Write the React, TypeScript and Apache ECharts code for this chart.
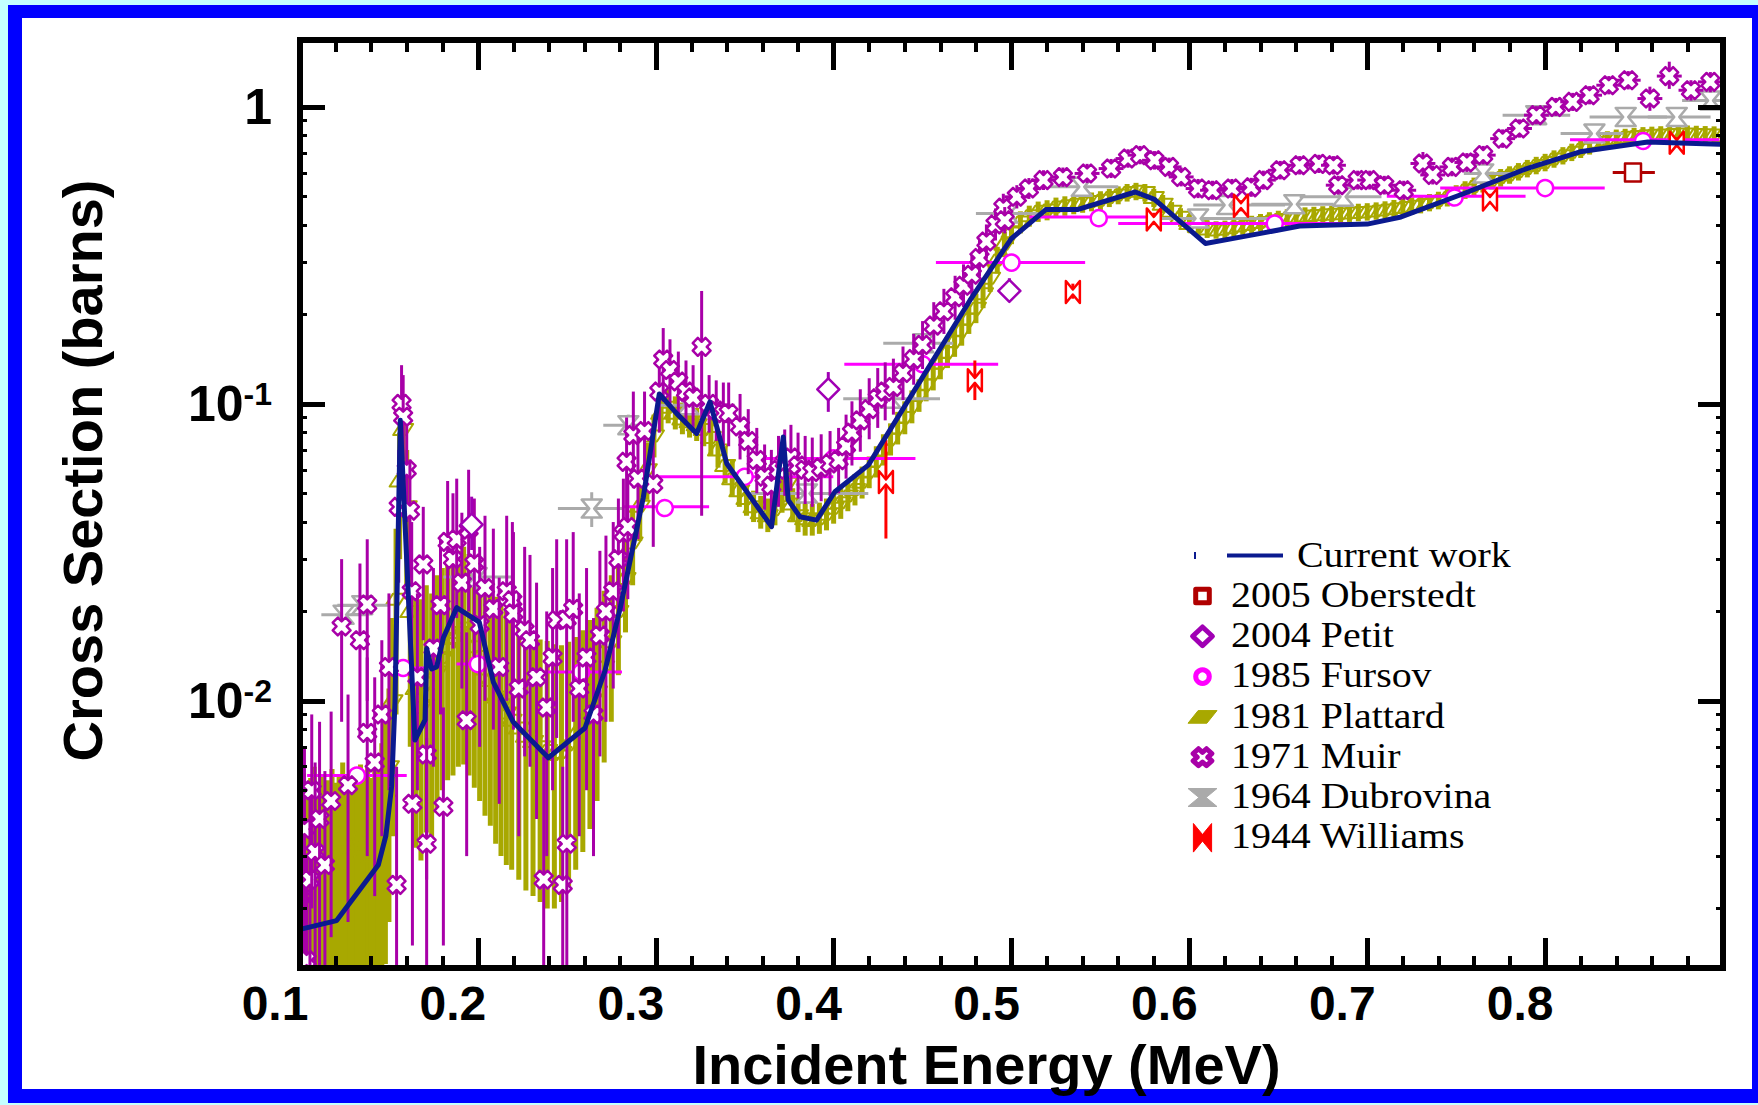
import React, { useEffect, useRef } from "react";
import * as echarts from "echarts";

// ---------------- axis ranges & tick labels ----------------
const X_MIN = 0.1;
const X_MAX = 0.9;
const X_STEP = 0.1;
const X_LABELS = ["0.1", "0.2", "0.3", "0.4", "0.5", "0.6", "0.7", "0.8"];
const Y_MIN = 0.00126;
const Y_MAX = 1.68;

// ---------------- data ----------------
// Current work: [E (MeV), sigma (b)]
const CURRENT_WORK: number[][] = [
  [0.1, 0.0017], [0.1206, 0.00182], [0.144, 0.0028], [0.1483, 0.00352], [0.1515, 0.00514],
  [0.1534, 0.0099], [0.1564, 0.088], [0.1646, 0.00738], [0.1703, 0.00863], [0.1712, 0.015],
  [0.174, 0.0128], [0.1768, 0.013], [0.1806, 0.0163], [0.1881, 0.0206], [0.2008, 0.0184],
  [0.2087, 0.01156], [0.2199, 0.00848], [0.2396, 0.00643], [0.2602, 0.0081], [0.2714, 0.0126],
  [0.28, 0.0205], [0.293, 0.0484], [0.302, 0.108], [0.3117, 0.0929], [0.323, 0.0795],
  [0.3305, 0.1016], [0.3399, 0.063], [0.3651, 0.0386], [0.3717, 0.0774], [0.3745, 0.0474],
  [0.381, 0.0417], [0.3904, 0.0406], [0.4007, 0.0506], [0.4195, 0.0622], [0.4766, 0.223],
  [0.4997, 0.359], [0.5193, 0.451], [0.537, 0.451], [0.5696, 0.517], [0.5804, 0.488],
  [0.609, 0.347], [0.6348, 0.37], [0.662, 0.397], [0.7, 0.403], [0.719, 0.426],
  [0.7544, 0.511], [0.7897, 0.62], [0.8196, 0.706], [0.8577, 0.762], [0.8984, 0.749],
];

// 2005 Oberstedt: [E, sigma, Elow, Ehigh]
const OBERSTEDT: number[][] = [[0.8494, 0.601, 0.838, 0.8617]];

// 2004 Petit: [E, sigma, sigLow, sigHigh]
const PETIT: number[][] = [
  [0.1965, 0.0392, 0.0322, 0.0487],
  [0.397, 0.1118, 0.094, 0.128],
  [0.4988, 0.24, 0.223, 0.265],
];

// 1985 Fursov: [E, sigma, Elow, Ehigh]
const FURSOV: number[][] = [
  [0.132, 0.0056, 0.104, 0.16], [0.158, 0.0129, 0.145, 0.171], [0.2, 0.0133, 0.188, 0.211],
  [0.258, 0.0125, 0.235, 0.281], [0.305, 0.045, 0.282, 0.33], [0.35, 0.0568, 0.3005, 0.3998],
  [0.4, 0.0655, 0.355, 0.446], [0.45, 0.136, 0.406, 0.4925], [0.5, 0.299, 0.4575, 0.5414],
  [0.549, 0.426, 0.51, 0.578], [0.648, 0.405, 0.56, 0.7], [0.749, 0.5, 0.711, 0.789],
  [0.8, 0.533, 0.741, 0.8335], [0.855, 0.775, 0.814, 0.898],
];

// 1981 Plattard: [E, sigma, sigLow, sigHigh]
const PLATTARD: number[][] = [
  [0.1, 0.0029, 0.0007, 0.0052], [0.102, 0.0033, 0.0009, 0.0057], [0.104, 0.0026, 0.0006, 0.0049],
  [0.106, 0.0031, 0.0008, 0.0055], [0.108, 0.0035, 0.001, 0.006], [0.11, 0.0028, 0.0007, 0.0051],
  [0.112, 0.0032, 0.0008, 0.0056], [0.114, 0.0027, 0.0007, 0.005], [0.116, 0.003, 0.0008, 0.0054],
  [0.118, 0.0034, 0.0009, 0.0059], [0.12, 0.0029, 0.0008, 0.0053], [0.122, 0.0031, 0.0008, 0.0056],
  [0.124, 0.0036, 0.001, 0.0062], [0.126, 0.003, 0.0008, 0.0054], [0.128, 0.0033, 0.0009, 0.0058],
  [0.13, 0.0028, 0.0007, 0.0052], [0.132, 0.0032, 0.0009, 0.0057], [0.134, 0.0035, 0.001, 0.0061],
  [0.136, 0.0031, 0.0008, 0.0056], [0.138, 0.0034, 0.0009, 0.006], [0.14, 0.003, 0.0008, 0.0055],
  [0.142, 0.0033, 0.0009, 0.006], [0.144, 0.0037, 0.001, 0.0066], [0.146, 0.004, 0.0011, 0.0072],
  [0.148, 0.0046, 0.0013, 0.0085], [0.15, 0.006, 0.0018, 0.011], [0.152, 0.01, 0.0035, 0.019],
  [0.154, 0.022, 0.009, 0.038], [0.156, 0.055, 0.03, 0.08], [0.158, 0.082, 0.055, 0.098],
  [0.16, 0.045, 0.022, 0.07], [0.162, 0.02, 0.007, 0.035], [0.165, 0.011, 0.0032, 0.024],
  [0.168, 0.0095, 0.0029, 0.022], [0.171, 0.0115, 0.0036, 0.0245], [0.174, 0.0105, 0.0034, 0.023],
  [0.177, 0.0125, 0.0042, 0.0265], [0.18, 0.014, 0.005, 0.028], [0.183, 0.015, 0.0054, 0.0295],
  [0.186, 0.0162, 0.0056, 0.031], [0.189, 0.017, 0.006, 0.032], [0.192, 0.0176, 0.0061, 0.033],
  [0.195, 0.0166, 0.0056, 0.0312], [0.198, 0.0152, 0.0051, 0.0292], [0.201, 0.0141, 0.0046, 0.0272],
  [0.204, 0.0128, 0.0041, 0.0254], [0.207, 0.0117, 0.0038, 0.0242], [0.21, 0.0103, 0.0033, 0.0224],
  [0.213, 0.0097, 0.003, 0.0212], [0.216, 0.0091, 0.0028, 0.0202], [0.219, 0.0086, 0.0027, 0.0192],
  [0.223, 0.0081, 0.0025, 0.0182], [0.227, 0.0076, 0.0023, 0.0172], [0.231, 0.0073, 0.0022, 0.0166],
  [0.235, 0.007, 0.0021, 0.0161], [0.239, 0.0068, 0.002, 0.0159], [0.243, 0.0066, 0.002, 0.0155],
  [0.247, 0.0067, 0.0021, 0.0154], [0.251, 0.0071, 0.0023, 0.0158], [0.255, 0.0077, 0.0027, 0.0164],
  [0.259, 0.0084, 0.0031, 0.0173], [0.263, 0.0093, 0.0037, 0.0187], [0.267, 0.0107, 0.0046, 0.0206],
  [0.271, 0.013, 0.0062, 0.0235], [0.275, 0.0158, 0.0085, 0.0265], [0.279, 0.02, 0.0122, 0.0302],
  [0.283, 0.0258, 0.017, 0.0368], [0.287, 0.034, 0.0245, 0.045], [0.291, 0.0452, 0.0345, 0.057],
  [0.295, 0.06, 0.0475, 0.074], [0.299, 0.078, 0.066, 0.092], [0.303, 0.093, 0.081, 0.108],
  [0.307, 0.0975, 0.086, 0.112], [0.311, 0.093, 0.082, 0.106], [0.315, 0.089, 0.079, 0.101],
  [0.319, 0.087, 0.077, 0.099], [0.323, 0.085, 0.075, 0.097], [0.327, 0.082, 0.072, 0.094],
  [0.331, 0.077, 0.067, 0.089], [0.335, 0.07, 0.061, 0.081], [0.339, 0.062, 0.054, 0.072],
  [0.343, 0.056, 0.049, 0.065], [0.347, 0.051, 0.045, 0.059], [0.351, 0.048, 0.042, 0.055],
  [0.355, 0.045, 0.04, 0.051], [0.359, 0.043, 0.038, 0.049], [0.363, 0.042, 0.037, 0.048],
  [0.367, 0.044, 0.039, 0.05], [0.371, 0.049, 0.043, 0.056], [0.374, 0.054, 0.047, 0.062],
  [0.377, 0.046, 0.04, 0.052], [0.38, 0.042, 0.037, 0.048], [0.384, 0.041, 0.036, 0.047],
  [0.388, 0.0405, 0.036, 0.046], [0.392, 0.041, 0.0365, 0.0465], [0.396, 0.0425, 0.0375, 0.048],
  [0.4, 0.0445, 0.0395, 0.05], [0.404, 0.0465, 0.041, 0.0525], [0.408, 0.049, 0.0435, 0.055],
  [0.412, 0.0515, 0.0455, 0.058], [0.416, 0.0545, 0.048, 0.0615], [0.42, 0.059, 0.052, 0.0665],
  [0.424, 0.064, 0.0565, 0.072], [0.428, 0.07, 0.062, 0.079], [0.432, 0.076, 0.067, 0.086],
  [0.436, 0.083, 0.073, 0.094], [0.44, 0.09, 0.079, 0.102], [0.444, 0.098, 0.086, 0.111],
  [0.448, 0.107, 0.094, 0.121], [0.452, 0.116, 0.102, 0.131], [0.456, 0.126, 0.111, 0.142],
  [0.46, 0.137, 0.121, 0.154], [0.464, 0.149, 0.132, 0.168], [0.468, 0.162, 0.144, 0.182],
  [0.472, 0.177, 0.157, 0.199], [0.476, 0.193, 0.172, 0.216], [0.48, 0.21, 0.187, 0.235],
  [0.484, 0.235, 0.21, 0.262], [0.488, 0.265, 0.238, 0.295], [0.492, 0.305, 0.275, 0.338],
  [0.496, 0.345, 0.312, 0.38], [0.5, 0.38, 0.345, 0.415], [0.505, 0.41, 0.375, 0.445],
  [0.51, 0.43, 0.395, 0.465], [0.515, 0.445, 0.41, 0.48], [0.52, 0.45, 0.415, 0.485],
  [0.525, 0.46, 0.425, 0.495], [0.53, 0.465, 0.43, 0.5], [0.535, 0.47, 0.435, 0.505],
  [0.54, 0.475, 0.44, 0.51], [0.545, 0.48, 0.445, 0.515], [0.55, 0.485, 0.45, 0.52],
  [0.555, 0.495, 0.46, 0.53], [0.56, 0.505, 0.47, 0.54], [0.565, 0.515, 0.48, 0.55],
  [0.57, 0.52, 0.485, 0.555], [0.575, 0.515, 0.48, 0.55], [0.58, 0.495, 0.46, 0.53],
  [0.585, 0.47, 0.438, 0.505], [0.59, 0.445, 0.415, 0.478], [0.595, 0.425, 0.395, 0.456],
  [0.6, 0.405, 0.378, 0.435], [0.605, 0.395, 0.368, 0.423], [0.61, 0.388, 0.362, 0.415],
  [0.615, 0.385, 0.36, 0.412], [0.62, 0.387, 0.361, 0.414], [0.625, 0.392, 0.366, 0.419],
  [0.63, 0.397, 0.371, 0.424], [0.635, 0.402, 0.376, 0.43], [0.64, 0.408, 0.381, 0.436],
  [0.645, 0.413, 0.386, 0.442], [0.65, 0.418, 0.39, 0.447], [0.655, 0.423, 0.395, 0.452],
  [0.66, 0.426, 0.398, 0.456], [0.665, 0.429, 0.401, 0.459], [0.67, 0.431, 0.403, 0.461],
  [0.675, 0.433, 0.405, 0.463], [0.68, 0.435, 0.407, 0.465], [0.685, 0.437, 0.408, 0.467],
  [0.69, 0.439, 0.41, 0.47], [0.695, 0.441, 0.412, 0.472], [0.7, 0.443, 0.414, 0.474],
  [0.705, 0.446, 0.417, 0.477], [0.71, 0.45, 0.42, 0.481], [0.715, 0.454, 0.424, 0.486],
  [0.72, 0.458, 0.428, 0.49], [0.725, 0.463, 0.433, 0.496], [0.73, 0.469, 0.438, 0.502],
  [0.735, 0.476, 0.445, 0.509], [0.74, 0.484, 0.452, 0.518], [0.745, 0.495, 0.462, 0.53],
  [0.75, 0.51, 0.476, 0.545], [0.755, 0.525, 0.49, 0.562], [0.76, 0.54, 0.504, 0.578],
  [0.765, 0.552, 0.515, 0.59], [0.77, 0.565, 0.527, 0.605], [0.775, 0.578, 0.539, 0.618],
  [0.78, 0.59, 0.551, 0.631], [0.785, 0.605, 0.565, 0.647], [0.79, 0.62, 0.579, 0.663],
  [0.795, 0.635, 0.593, 0.679], [0.8, 0.65, 0.607, 0.695], [0.805, 0.668, 0.624, 0.714],
  [0.81, 0.685, 0.64, 0.732], [0.815, 0.703, 0.657, 0.752], [0.82, 0.72, 0.673, 0.77],
  [0.825, 0.74, 0.691, 0.791], [0.83, 0.76, 0.71, 0.813], [0.835, 0.775, 0.724, 0.828],
  [0.84, 0.785, 0.734, 0.839], [0.845, 0.79, 0.738, 0.844], [0.85, 0.795, 0.743, 0.85],
  [0.855, 0.8, 0.748, 0.855], [0.86, 0.802, 0.75, 0.858], [0.865, 0.805, 0.752, 0.861],
  [0.87, 0.808, 0.755, 0.864], [0.875, 0.81, 0.757, 0.866], [0.88, 0.81, 0.757, 0.866],
  [0.885, 0.808, 0.755, 0.864], [0.89, 0.806, 0.753, 0.862], [0.895, 0.804, 0.751, 0.86],
  [0.9, 0.8, 0.748, 0.855],
];

// 1971 Muir: [E, sigma, sigLow, sigHigh]
const MUIR: number[][] = [
  [0.1005, 0.0022, 0.0008, 0.0045], [0.1025, 0.0037, 0.0012, 0.007], [0.1037, 0.00134, 0.0005, 0.003],
  [0.1056, 0.0025, 0.0009, 0.0052], [0.1066, 0.005, 0.002, 0.009], [0.1085, 0.0031, 0.001, 0.0062],
  [0.111, 0.004, 0.0012, 0.0085], [0.114, 0.0028, 0.0009, 0.0058], [0.1175, 0.0046, 0.0016, 0.0092],
  [0.1234, 0.0178, 0.0085, 0.03], [0.127, 0.0052, 0.0018, 0.0105], [0.1337, 0.016, 0.0075, 0.029],
  [0.1378, 0.0211, 0.01, 0.035], [0.1378, 0.0078, 0.003, 0.014], [0.142, 0.0062, 0.0022, 0.012],
  [0.146, 0.009, 0.0035, 0.016], [0.15, 0.013, 0.005, 0.023], [0.1543, 0.0024, 0.0008, 0.006],
  [0.1555, 0.045, 0.025, 0.07], [0.1571, 0.1, 0.07, 0.135], [0.158, 0.0905, 0.065, 0.125],
  [0.16, 0.06, 0.04, 0.085], [0.1618, 0.0437, 0.026, 0.065], [0.1628, 0.0234, 0.012, 0.04],
  [0.1632, 0.0045, 0.0015, 0.0095], [0.166, 0.012, 0.005, 0.023], [0.1693, 0.0288, 0.016, 0.045],
  [0.1712, 0.0066, 0.0025, 0.013], [0.1712, 0.0033, 0.001, 0.0075], [0.175, 0.015, 0.006, 0.028],
  [0.179, 0.021, 0.009, 0.036], [0.1806, 0.0044, 0.0015, 0.0095], [0.183, 0.0343, 0.018, 0.055],
  [0.186, 0.03, 0.015, 0.05], [0.1881, 0.035, 0.019, 0.056], [0.191, 0.025, 0.011, 0.043],
  [0.1937, 0.0086, 0.003, 0.017], [0.1948, 0.0377, 0.02, 0.06], [0.198, 0.029, 0.014, 0.048],
  [0.201, 0.018, 0.007, 0.033], [0.204, 0.024, 0.01, 0.042], [0.2087, 0.0204, 0.008, 0.038],
  [0.212, 0.013, 0.0045, 0.026], [0.2162, 0.0234, 0.01, 0.042], [0.2194, 0.0218, 0.009, 0.04],
  [0.22, 0.0197, 0.008, 0.037], [0.223, 0.011, 0.0035, 0.023], [0.2263, 0.0173, 0.0065, 0.033],
  [0.2293, 0.016, 0.006, 0.031], [0.233, 0.012, 0.004, 0.025], [0.237, 0.0025, 0.0008, 0.0065],
  [0.2387, 0.0095, 0.003, 0.02], [0.242, 0.014, 0.005, 0.028], [0.2443, 0.0187, 0.0075, 0.035],
  [0.2477, 0.0024, 0.0008, 0.006], [0.2499, 0.0188, 0.0075, 0.035], [0.25, 0.0033, 0.001, 0.0075],
  [0.2536, 0.0204, 0.0085, 0.037], [0.257, 0.011, 0.0035, 0.023], [0.2611, 0.014, 0.005, 0.028],
  [0.265, 0.009, 0.003, 0.019], [0.2686, 0.0166, 0.0065, 0.032], [0.272, 0.02, 0.0085, 0.036],
  [0.2761, 0.0234, 0.011, 0.04], [0.279, 0.03, 0.015, 0.048], [0.2818, 0.0367, 0.02, 0.056],
  [0.2836, 0.0638, 0.04, 0.09], [0.2843, 0.0385, 0.022, 0.058], [0.2874, 0.0785, 0.052, 0.11],
  [0.29, 0.056, 0.035, 0.082], [0.2937, 0.081, 0.056, 0.11], [0.2986, 0.0537, 0.033, 0.08],
  [0.302, 0.11, 0.08, 0.145], [0.3042, 0.141, 0.105, 0.18], [0.308, 0.13, 0.098, 0.165],
  [0.3127, 0.119, 0.09, 0.15], [0.317, 0.11, 0.085, 0.14], [0.321, 0.105, 0.08, 0.135],
  [0.3258, 0.1556, 0.042, 0.24], [0.33, 0.1, 0.08, 0.125], [0.334, 0.095, 0.075, 0.12],
  [0.338, 0.093, 0.072, 0.118], [0.341, 0.093, 0.072, 0.118], [0.3474, 0.084, 0.065, 0.108],
  [0.352, 0.075, 0.058, 0.096], [0.3568, 0.0647, 0.05, 0.083], [0.3612, 0.0568, 0.044, 0.073],
  [0.365, 0.053, 0.04, 0.07], [0.369, 0.06, 0.045, 0.078], [0.3725, 0.0637, 0.049, 0.082],
  [0.376, 0.066, 0.051, 0.085], [0.38, 0.062, 0.048, 0.08], [0.384, 0.06, 0.046, 0.078],
  [0.388, 0.059, 0.045, 0.077], [0.393, 0.061, 0.047, 0.079], [0.398, 0.063, 0.049, 0.081],
  [0.4028, 0.0646, 0.05, 0.083], [0.407, 0.072, 0.056, 0.092], [0.4103, 0.08, 0.062, 0.102],
  [0.415, 0.088, 0.069, 0.112], [0.42, 0.096, 0.076, 0.122], [0.4248, 0.1045, 0.083, 0.132],
  [0.429, 0.11, 0.088, 0.138], [0.4336, 0.114, 0.092, 0.142], [0.439, 0.127, 0.103, 0.156],
  [0.445, 0.1415, 0.116, 0.172], [0.45, 0.158, 0.131, 0.19], [0.4563, 0.1835, 0.153, 0.22],
  [0.462, 0.205, 0.172, 0.244], [0.4683, 0.2286, 0.192, 0.27], [0.473, 0.25, 0.212, 0.295],
  [0.4777, 0.272, 0.232, 0.318], [0.482, 0.31, 0.268, 0.358], [0.4859, 0.352, 0.308, 0.402],
  [0.491, 0.402, 0.355, 0.455], [0.4954, 0.458, 0.41, 0.51], [0.4962, 0.415, 0.375, 0.46],
  [0.503, 0.498, 0.455, 0.545], [0.5098, 0.531, 0.49, 0.576], [0.518, 0.567, 0.525, 0.612],
  [0.5289, 0.58, 0.538, 0.625], [0.5425, 0.597, 0.554, 0.643], [0.556, 0.62, 0.576, 0.668],
  [0.5655, 0.67, 0.624, 0.72], [0.5723, 0.688, 0.641, 0.739], [0.5804, 0.661, 0.615, 0.71],
  [0.5886, 0.628, 0.584, 0.675], [0.5954, 0.581, 0.54, 0.625], [0.6049, 0.531, 0.493, 0.572],
  [0.613, 0.524, 0.487, 0.564], [0.6239, 0.531, 0.493, 0.572], [0.6348, 0.536, 0.498, 0.577],
  [0.6416, 0.567, 0.527, 0.61], [0.6511, 0.612, 0.57, 0.658], [0.662, 0.636, 0.592, 0.683],
  [0.6728, 0.643, 0.599, 0.69], [0.681, 0.636, 0.592, 0.683], [0.6837, 0.545, 0.507, 0.586],
  [0.6946, 0.567, 0.527, 0.61], [0.7014, 0.567, 0.527, 0.61], [0.7096, 0.545, 0.507, 0.586],
  [0.7205, 0.524, 0.487, 0.564], [0.7313, 0.645, 0.59, 0.705], [0.7368, 0.59, 0.548, 0.635],
  [0.7476, 0.628, 0.584, 0.675], [0.756, 0.65, 0.604, 0.699], [0.7652, 0.688, 0.64, 0.739],
  [0.7761, 0.782, 0.728, 0.84], [0.7856, 0.846, 0.788, 0.908], [0.7951, 0.938, 0.874, 1.006],
  [0.806, 1.0, 0.932, 1.072], [0.8155, 1.04, 0.969, 1.115], [0.825, 1.095, 1.02, 1.175],
  [0.8358, 1.183, 1.102, 1.27], [0.8467, 1.23, 1.145, 1.32], [0.8589, 1.067, 0.97, 1.17],
  [0.8698, 1.27, 1.15, 1.42], [0.882, 1.138, 1.05, 1.23], [0.8929, 1.214, 1.12, 1.31],
];
// Muir horizontal half-widths by energy range: [upper E, half-width]
const MUIR_XERR: number[][] = [[0.3, 0.002], [0.5, 0.004], [1.0, 0.007]];

// 1964 Dubrovina: [E, sigma, Elow, Ehigh, sigLow, sigHigh]
const DUBROVINA: number[][] = [
  [0.1245, 0.0195, 0.112, 0.137, 0.0183, 0.0208], [0.135, 0.021, 0.121, 0.15, 0.0197, 0.0224],
  [0.1993, 0.0261, 0.1806, 0.2199, 0.0236, 0.029], [0.264, 0.0444, 0.245, 0.2815, 0.0385, 0.0504],
  [0.2846, 0.0848, 0.2705, 0.3, 0.078, 0.092], [0.3183, 0.099, 0.3024, 0.3445, 0.093, 0.106],
  [0.385, 0.0499, 0.351, 0.4195, 0.046, 0.054], [0.432, 0.104, 0.4054, 0.4598, 0.097, 0.112],
  [0.4504, 0.16, 0.4279, 0.4672, 0.15, 0.17], [0.4977, 0.4375, 0.48, 0.515, 0.41, 0.465],
  [0.5395, 0.538, 0.52, 0.56, 0.51, 0.565], [0.6049, 0.421, 0.583, 0.6456, 0.4, 0.443],
  [0.6212, 0.467, 0.6022, 0.6538, 0.445, 0.49], [0.659, 0.47, 0.6348, 0.681, 0.448, 0.493],
  [0.6864, 0.498, 0.662, 0.708, 0.475, 0.522], [0.7652, 0.597, 0.7543, 0.7814, 0.57, 0.625],
  [0.795, 0.938, 0.7761, 0.8141, 0.89, 0.99], [0.8277, 0.813, 0.8087, 0.844, 0.775, 0.852],
  [0.8453, 0.925, 0.825, 0.8685, 0.88, 0.97], [0.874, 0.925, 0.8577, 0.893, 0.88, 0.97],
  [0.893, 1.05, 0.877, 0.9, 1.0, 1.1],
];

// 1944 Williams: [E, sigma, sigLow, sigHigh]
const WILLIAMS: number[][] = [
  [0.4294, 0.0546, 0.0352, 0.0755], [0.4794, 0.12, 0.103, 0.14], [0.5345, 0.238, 0.226, 0.254],
  [0.58, 0.418, 0.4, 0.44], [0.629, 0.465, 0.445, 0.485], [0.769, 0.488, 0.47, 0.51],
  [0.874, 0.758, 0.73, 0.79],
];

// ---------------- styling ----------------
const COL = {
  current: "#0b1a8f",
  oberstedt: "#b00000",
  petit: "#a000b4",
  fursov: "#ff00ff",
  plattard: "#a8a800",
  muir: "#a800a8",
  dubrovina: "#aaaaaa",
  williams: "#ff0000",
};
const TICK_FONT = "'Liberation Sans Narrow', 'Arial Narrow', 'Liberation Sans', Arial, sans-serif";
const TITLE_FONT = "'Liberation Sans', Arial, sans-serif";
const LEGEND_FONT = "'Liberation Serif', 'Times New Roman', serif";

const PLUS = [[3.6, -9], [3.6, -3.6], [9, -3.6], [9, 3.6], [3.6, 3.6], [3.6, 9], [-3.6, 9], [-3.6, 3.6], [-9, 3.6], [-9, -3.6], [-3.6, -3.6], [-3.6, -9]];
const SHAPES: Record<string, number[][]> = {
  diamond: [[0, -11], [11, 0], [0, 11], [-11, 0]],
  para: [[-10, 5.5], [-3, -5.5], [10, -5.5], [3, 5.5]],
  hourglass: [[-10, -9], [10, -9], [2.5, 0], [10, 9], [-10, 9], [-2.5, 0]],
  bowtie: [[-7, -11], [0, -2.5], [7, -11], [7, 11], [0, 2.5], [-7, 11]],
  cross: PLUS.map(([a, b]) => [(a - b) * Math.SQRT1_2, (a + b) * Math.SQRT1_2]),
};

function markerEl(kind: string, cx: number, cy: number, color: string, sx: number, sy: number, lw: number, fill: string): any {
  const style = { fill, stroke: color, lineWidth: lw, lineJoin: "round" };
  if (kind === "circle") return { type: "circle", shape: { cx, cy, r: 8 * sx }, style };
  if (kind === "square") return { type: "rect", shape: { x: cx - 8 * sx, y: cy - 9 * sy, width: 16 * sx, height: 18 * sy }, style };
  return { type: "polygon", shape: { points: SHAPES[kind].map(([a, b]) => [cx + a * sx, cy + b * sy]) }, style };
}

function errSeries(name: string, rows: number[][], color: string, kind: string, o: any): any {
  return {
    type: "custom",
    name,
    data: rows,
    clip: true,
    z: o.z,
    dimensions: ["x", "y", "ylo", "yhi", "xlo", "xhi"],
    encode: { x: 0, y: 1 },
    renderItem: (params: any, api: any) => {
      const x = api.value(0), y = api.value(1);
      const ylo = api.value(2), yhi = api.value(3), xlo = api.value(4), xhi = api.value(5);
      const p = api.coord([x, y]);
      const children: any[] = [];
      if (ylo !== y || yhi !== y) {
        const a = api.coord([x, ylo]), b = api.coord([x, yhi]);
        children.push({ type: "line", shape: { x1: p[0], y1: a[1], x2: p[0], y2: b[1] }, style: { stroke: color, lineWidth: o.bw } });
      }
      if (xlo !== x || xhi !== x) {
        const a = api.coord([xlo, y]), b = api.coord([xhi, y]);
        children.push({ type: "line", shape: { x1: a[0], y1: p[1], x2: b[0], y2: p[1] }, style: { stroke: color, lineWidth: o.bw } });
      }
      children.push(markerEl(kind, p[0], p[1], color, 1, 1, o.lw, o.fill));
      return { type: "group", children };
    },
  };
}

function legendGraphic(): any[] {
  const els: any[] = [];
  const tx = 1231;
  const ix = 1202.5;
  const font = {
    fontSize: 35, fontFamily: LEGEND_FONT, fill: "#000",
    align: "left", verticalAlign: "middle", textAlign: "left", textVerticalAlign: "middle",
  };
  const SX = 1.14;
  // current work row
  els.push({ type: "rect", shape: { x: 1194, y: 552, width: 2, height: 7 }, style: { fill: COL.current } });
  els.push({ type: "line", shape: { x1: 1227, y1: 555.5, x2: 1283, y2: 555.5 }, style: { stroke: COL.current, lineWidth: 4 } });
  els.push({ type: "text", x: 1297, y: 555, scaleX: SX, style: { text: "Current work", ...font } });
  const items = [
    { name: "2005 Oberstedt", kind: "square", color: COL.oberstedt, sx: 0.85, sy: 0.75, lw: 5, fill: "#fff" },
    { name: "2004 Petit", kind: "diamond", color: COL.petit, sx: 0.9, sy: 0.85, lw: 5, fill: "#fff" },
    { name: "1985 Fursov", kind: "circle", color: COL.fursov, sx: 0.85, sy: 0.85, lw: 5, fill: "#fff" },
    { name: "1981 Plattard", kind: "para", color: COL.plattard, sx: 1.45, sy: 1.15, lw: 1, fill: COL.plattard },
    { name: "1971 Muir", kind: "cross", color: COL.muir, sx: 1.05, sy: 0.95, lw: 5, fill: "#fff" },
    { name: "1964 Dubrovina", kind: "hourglass", color: COL.dubrovina, sx: 1.45, sy: 1.0, lw: 1, fill: COL.dubrovina },
    { name: "1944 Williams", kind: "bowtie", color: COL.williams, sx: 1.3, sy: 1.3, lw: 1, fill: COL.williams },
  ];
  items.forEach((it, i) => {
    const cy = 596 + i * 40.3;
    els.push(markerEl(it.kind, ix, cy, it.color, it.sx, it.sy, it.lw, it.fill));
    els.push({ type: "text", x: tx, y: cy - 1, scaleX: SX, style: { text: it.name, ...font } });
  });
  return els;
}

function buildOption(): any {
  const axisLine = { show: true, onZero: false, lineStyle: { color: "#000", width: 6, cap: "square" } };
  const xCommon = {
    type: "value",
    min: X_MIN,
    max: X_MAX,
    interval: X_STEP,
    z: 10,
    axisLine,
    axisTick: { show: true, inside: true, length: 30, lineStyle: { color: "#000", width: 5 } },
    minorTick: { show: true, splitNumber: 5, length: 12, lineStyle: { color: "#000", width: 4 } },
    splitLine: { show: false },
    minorSplitLine: { show: false },
  };
  const yCommon = {
    type: "log",
    logBase: 10,
    min: Y_MIN,
    max: Y_MAX,
    z: 10,
    axisLine,
    axisTick: { show: true, inside: true, length: 25, lineStyle: { color: "#000", width: 5 } },
    minorTick: { show: true, splitNumber: 9, length: 7, lineStyle: { color: "#000", width: 3 } },
    splitLine: { show: false },
    minorSplitLine: { show: false },
  };
  const muirRows = MUIR.map(([x, y, lo, hi]) => {
    const dx = (MUIR_XERR.find((r) => x < r[0]) || MUIR_XERR[MUIR_XERR.length - 1])[1];
    return [x, y, lo, hi, x - dx, x + dx];
  });
  return {
    animation: false,
    grid: { left: 300, top: 40, width: 1423, height: 928, containLabel: false },
    xAxis: [
      {
        ...xCommon,
        position: "bottom",
        name: "Incident Energy (MeV)",
        nameLocation: "middle",
        nameGap: 68,
        nameTextStyle: { fontSize: 56, fontWeight: "bold", fontFamily: TITLE_FONT, color: "#000", padding: [0, 50, 0, 0] },
        axisLabel: {
          show: true,
          margin: 11,
          fontSize: 48,
          fontWeight: "bold",
          fontFamily: TICK_FONT,
          color: "#000",
          padding: [0, 50, 0, 0],
          formatter: (v: number) => {
            const idx = Math.round((v - X_MIN) / X_STEP);
            return Math.abs(v - (X_MIN + idx * X_STEP)) < 1e-6 && X_LABELS[idx] ? X_LABELS[idx] : "";
          },
        },
      },
      { ...xCommon, position: "top", axisLabel: { show: false } },
    ],
    yAxis: [
      {
        ...yCommon,
        position: "left",
        name: "Cross Section (barns)",
        nameLocation: "middle",
        nameGap: 190,
        nameRotate: 90,
        nameTextStyle: { fontSize: 56, fontWeight: "bold", fontFamily: TITLE_FONT, color: "#000", padding: [0, 0, 0, 67] },
        axisLabel: {
          show: true,
          margin: 28,
          color: "#000",
          formatter: (v: number) => {
            const l = Math.log10(v);
            const e = Math.round(l);
            if (Math.abs(l - e) > 1e-6) return "";
            if (e === 0) return "{b|1}";
            return "{b|10}{s|" + e + "}";
          },
          rich: {
            b: { fontSize: 50, fontWeight: "bold", fontFamily: TICK_FONT, color: "#000", lineHeight: 52 },
            s: { fontSize: 32, fontWeight: "bold", fontFamily: TICK_FONT, color: "#000", lineHeight: 24, verticalAlign: "top" },
          },
        },
      },
      { ...yCommon, position: "right", axisLabel: { show: false } },
    ],
    series: [
      errSeries("1981 Plattard", PLATTARD.map(([x, y, lo, hi]) => [x, y, lo, hi, x, x]), COL.plattard, "para", { z: 2, bw: 5, lw: 2, fill: "none" }),
      errSeries("1964 Dubrovina", DUBROVINA.map(([x, y, xl, xh, lo, hi]) => [x, y, lo, hi, xl, xh]), COL.dubrovina, "hourglass", { z: 3, bw: 3, lw: 2.5, fill: "#fff" }),
      errSeries("1985 Fursov", FURSOV.map(([x, y, xl, xh]) => [x, y, y, y, xl, xh]), COL.fursov, "circle", { z: 3, bw: 3, lw: 2.5, fill: "#fff" }),
      errSeries("1971 Muir", muirRows, COL.muir, "cross", { z: 4, bw: 3, lw: 2.5, fill: "#fff" }),
      errSeries("2004 Petit", PETIT.map(([x, y, lo, hi]) => [x, y, lo, hi, x, x]), COL.petit, "diamond", { z: 4, bw: 3, lw: 2.5, fill: "#fff" }),
      errSeries("1944 Williams", WILLIAMS.map(([x, y, lo, hi]) => [x, y, lo, hi, x, x]), COL.williams, "bowtie", { z: 5, bw: 3, lw: 2.5, fill: "#fff" }),
      errSeries("2005 Oberstedt", OBERSTEDT.map(([x, y, xl, xh]) => [x, y, y, y, xl, xh]), COL.oberstedt, "square", { z: 5, bw: 3, lw: 2.5, fill: "#fff" }),
      {
        type: "line",
        name: "Current work",
        data: CURRENT_WORK,
        showSymbol: false,
        symbol: "none",
        clip: true,
        z: 6,
        lineStyle: { color: COL.current, width: 5, join: "round" },
      },
    ],
    graphic: { elements: legendGraphic() },
  };
}

export default function App() {
  const ref = useRef<HTMLDivElement>(null);
  useEffect(() => {
    document.body.style.margin = "0";
    const chart = echarts.init(ref.current as HTMLDivElement, null, { renderer: "svg" });
    chart.setOption(buildOption());
    return () => chart.dispose();
  }, []);
  return (
    <div style={{ position: "relative", width: 1758, height: 1105, background: "#c4ffff", overflow: "hidden" }}>
      <div
        style={{
          position: "absolute",
          left: 8,
          top: 5,
          width: 1758,
          height: 1098,
          boxSizing: "border-box",
          border: "14px solid #0000ff",
          borderTopWidth: 13,
          background: "#ffffff",
        }}
      />
      <div ref={ref} style={{ position: "absolute", left: 0, top: 0, width: 1758, height: 1105 }} />
    </div>
  );
}
